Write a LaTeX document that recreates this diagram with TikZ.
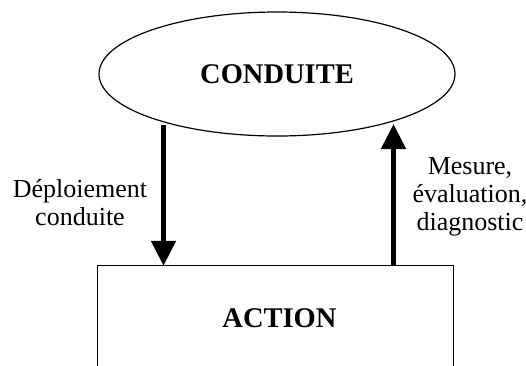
\documentclass[tikz,border=0pt]{standalone}
\usepackage{fontspec}
\setmainfont{Liberation Serif}
\usetikzlibrary{arrows.meta,shapes.geometric,calc}
\begin{document}
\begin{tikzpicture}[x=1pt,y=-1pt,
  thinline/.style={line width=1.2pt},
  flow/.style={line width=5pt,-{Triangle[width=24pt,length=25pt]}},
  lbl/.style={align=center,inner sep=0pt,font={\fontsize{26}{28}\selectfont}},
  titlefont/.style={font={\fontsize{28.5}{32}\selectfont\bfseries}}]
\useasboundingbox (0,0) rectangle (526,365);
\node[ellipse,draw,thinline,minimum width=356pt,minimum height=124pt,inner sep=0pt,titlefont] (conduite) at (277,74) {\raisebox{-3pt}{CONDUITE}};
\node[rectangle,minimum width=355pt,minimum height=104pt,inner sep=0pt,titlefont] (action) at (275.5,318) {\hspace*{8pt}ACTION};
\draw[thinline] (action.south west) -- (action.north west) -- (action.north east) -- (action.south east);
\coordinate (dtop) at ($(conduite.center)+(-113.5,51)$);
\coordinate (utop) at ($(conduite.center)+(116.5,50)$);
\draw[flow] (dtop) -- (dtop |- action.north);
\draw[flow] (utop |- action.north) -- (utop);
\node[lbl] (deploy) at (80,203) {Déploiement\\conduite};
\node[lbl] (mesure) at (470,196.5) {Mesure,\\évaluation,\\diagnostic};
\end{tikzpicture}
\end{document}
